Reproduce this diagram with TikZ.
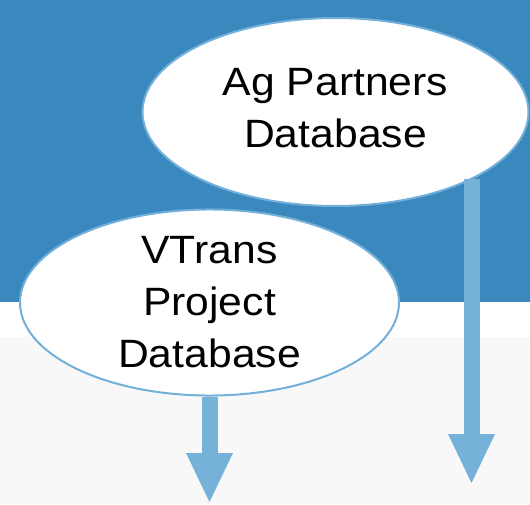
\documentclass[tikz,border=0pt]{standalone}
\usepackage{fontspec}
\setmainfont{Liberation Sans}[FakeStretch=1.08]
\usepackage{xcolor}
\usepackage{tikz}
\usetikzlibrary{arrows.meta}
\usetikzlibrary{shapes.geometric}
\definecolor{bgblue}{HTML}{3A88BE}
\definecolor{bggrey}{HTML}{F8F8F8}
\definecolor{rimblue}{HTML}{72B0DA}
\definecolor{arrowblue}{HTML}{76B1D8}
\tikzstyle{dbnode}=[black, draw=rimblue, line width=2pt, shape=ellipse, fill=white, inner sep=0pt, align=center, font=\fontsize{39.5}{52}\selectfont]
\tikzstyle{flowarrow}=[-{Triangle[length=49pt, width=47pt, line width=0pt]}, line width=16pt, color=arrowblue]

\begin{document}
\begin{tikzpicture}[x=1pt, y=-1pt]
\useasboundingbox (0,0) rectangle (530,504);
\fill [bgblue] (0,0) rectangle (530,302);
\fill [white] (0,302) rectangle (530,337);
\fill [bggrey] (0,337) rectangle (530,504);

\node [dbnode, minimum width=386pt, minimum height=188pt, text depth=9pt] (agdb) at (335.5,112) {Ag Partners\\Database};
\node [dbnode, minimum width=379pt, minimum height=181pt] (vtransdb) at (209.5,302.5) {VTrans\\Project\\Database};

\coordinate (vtransout) at (209.5,502);
\coordinate (agout) at (471.5,483);
\draw [flowarrow] (vtransdb.south) -- (vtransout);
\draw [flowarrow] (agdb.-26 -| agout) -- (agout);
\end{tikzpicture}
\end{document}
